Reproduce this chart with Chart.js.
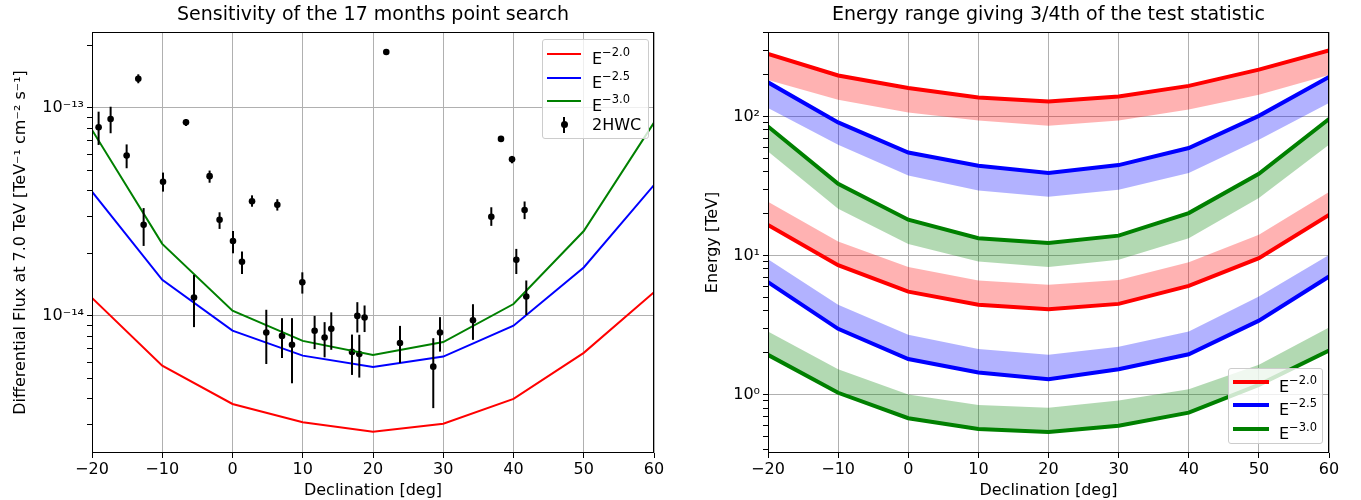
<!DOCTYPE html>
<html lang="en">
<head>
    <meta charset="UTF-8">
    <title>Sensitivity and energy range</title>
    <style>
        body {
            margin: 0;
            background: #ffffff;
            font-family: 'DejaVu Sans', sans-serif;
        }

        .wrap {
            position: relative;
            width: 1361px;
            height: 500px;
        }

        #fluxChart { position: absolute; left: 0; top: 0; }
        #energyChart { position: absolute; left: 680px; top: 0; }

        .legend {
            position: absolute;
            box-sizing: border-box;
            background: rgba(255, 255, 255, 0.8);
            border: 1px solid #cccccc;
            border-radius: 3px;
        }

        .legend-row {
            position: absolute;
            left: 0;
            height: 20px;
            font-size: 16px;
            line-height: 20px;
            color: #000;
            white-space: nowrap;
        }

        .legend-row .swatch { position: absolute; }
        .legend-row .label { position: absolute; top: 0; }
        .legend-row sup { font-size: 11.5px; position: relative; top: -2px; }
    </style>
    <script src="https://cdn.jsdelivr.net/npm/chart.js"></script>
</head>
<body>
    <div class="wrap">
        <canvas id="fluxChart" width="680" height="500"></canvas>
        <canvas id="energyChart" width="681" height="500"></canvas>
        <div class="legend" id="fluxLegend" style="left:542px; top:39px; width:107px; height:100px;"></div>
        <div class="legend" id="energyLegend" style="left:1228px; top:368px; width:95px; height:76px;"></div>
    </div>

    <script>
        // declination grid of the simulated curves
        const decl = [-20, -10, 0, 10, 20, 30, 40, 50, 60];
        const xTicks = [-20, -10, 0, 10, 20, 30, 40, 50, 60];

        const specIdx = ['2.0', '2.5', '3.0'];
        const specColor = ['#ff0000', '#0000ff', '#008000'];
        const bandColor = ['rgba(255,0,0,0.3)', 'rgba(0,0,255,0.3)', 'rgba(0,128,0,0.3)'];

        // left panel: sensitivity at 7 TeV
        const sensE20 = [1.22e-14, 5.76e-15, 3.77e-15, 3.08e-15, 2.77e-15, 3.03e-15, 3.99e-15, 6.64e-15, 1.30e-14];
        const sensE25 = [3.96e-14, 1.49e-14, 8.49e-15, 6.44e-15, 5.67e-15, 6.37e-15, 8.97e-15, 1.71e-14, 4.26e-14];
        const sensE30 = [7.84e-14, 2.22e-14, 1.06e-14, 7.58e-15, 6.49e-15, 7.48e-15, 1.14e-14, 2.56e-14, 8.50e-14];

        // 2HWC sources: declination, flux, error low / high
        const hwcDec = [-19.06, -17.35, -15.07, -13.41, -12.65, -9.89, -6.62, -5.48, -3.26, -1.84, 0.07, 1.35, 2.78, 6.38, 9.94,
            4.81, 7.05, 8.47, 11.69, 13.11, 14.06, 17.01, 17.77, 18.05, 18.80, 21.89, 23.84, 28.58, 29.54, 34.23,
            36.84, 38.22, 39.79, 40.40, 41.58, 41.82];
        const hwcFlux = [8.08e-14, 8.85e-14, 5.90e-14, 1.383e-13, 2.74e-14, 4.42e-14, 8.53e-14, 1.225e-14, 4.70e-14, 2.90e-14, 2.29e-14, 1.82e-14, 3.56e-14, 3.42e-14, 1.45e-14,
            8.32e-15, 8.01e-15, 7.26e-15, 8.48e-15, 7.87e-15, 8.66e-15, 6.71e-15, 1.0e-14, 6.55e-15, 9.82e-15, 1.86e-13, 7.40e-15, 5.70e-15, 8.32e-15, 9.53e-15,
            3.0e-14, 7.1e-14, 5.66e-14, 1.86e-14, 3.23e-14, 1.24e-14];
        const hwcLow = [6.64e-14, 7.56e-14, 5.13e-14, 1.315e-13, 2.17e-14, 3.96e-14, 8.19e-14, 8.83e-15, 4.37e-14, 2.62e-14, 2.0e-14, 1.59e-14, 3.35e-14, 3.21e-14, 1.28e-14,
            5.87e-15, 6.27e-15, 4.74e-15, 6.92e-15, 6.32e-15, 6.87e-15, 5.20e-15, 8.32e-15, 5.05e-15, 8.36e-15, 1.84e-13, 5.93e-15, 3.60e-15, 6.73e-15, 7.67e-15,
            2.71e-14, 7.0e-14, 5.42e-14, 1.59e-14, 2.92e-14, 1.01e-14];
        const hwcHigh = [9.6e-14, 1.014e-13, 6.68e-14, 1.452e-13, 3.30e-14, 4.89e-14, 8.85e-14, 1.574e-14, 5.0e-14, 3.15e-14, 2.56e-14, 2.04e-14, 3.80e-14, 3.64e-14, 1.62e-14,
            1.07e-14, 9.75e-15, 9.75e-15, 1.0e-14, 9.33e-15, 1.04e-14, 8.13e-15, 1.164e-14, 8.11e-15, 1.122e-14, 1.88e-13, 8.95e-15, 7.81e-15, 9.86e-15, 1.138e-14,
            3.33e-14, 7.2e-14, 5.88e-14, 2.10e-14, 3.55e-14, 1.48e-14];

        // right panel: energy range (TeV), upper and lower bounds with band edges
        const eHighE20 = [282, 197, 160, 137, 128, 139, 166, 217, 298];
        const eHighBandE20 = [183, 132, 107, 93.6, 85.8, 93.6, 112, 143, 199];
        const eLowE20 = [16.6, 8.53, 5.5, 4.42, 4.11, 4.49, 6.05, 9.58, 19.6];
        const eLowBandE20 = [24.4, 12.6, 8.26, 6.6, 6.15, 6.68, 8.96, 14.1, 28.6];

        const eHighE25 = [176, 90.6, 55, 44.2, 39.2, 44.7, 59.3, 101, 192];
        const eHighBandE25 = [115, 62.5, 37.6, 29.4, 26.5, 29.7, 39.2, 68, 125];
        const eLowE25 = [6.44, 2.97, 1.80, 1.44, 1.29, 1.52, 1.95, 3.40, 7.06];
        const eLowBandE25 = [9.42, 4.42, 2.69, 2.13, 1.93, 2.21, 2.84, 5.07, 10.1];

        const eHighE30 = [84.7, 32.8, 18.1, 13.3, 12.3, 13.9, 20.2, 38.7, 95.8];
        const eHighBandE30 = [56, 21.7, 12.1, 9.06, 8.26, 9.31, 13.3, 25.9, 62.5];
        const eLowE30 = [1.93, 1.03, 0.676, 0.566, 0.537, 0.596, 0.741, 1.175, 2.07];
        const eLowBandE30 = [2.84, 1.52, 1.0, 0.843, 0.805, 0.906, 1.09, 1.64, 3.03];

        const fluxRange = [2.19e-15, 2.32e-13];
        const energyRange = [0.38, 405];

        Chart.defaults.font.family = "'DejaVu Sans', sans-serif";
        Chart.defaults.color = '#000';

        const FONT = 16;

        const SUP = {'-': '\u207b', '0': '\u2070', '1': '\u00b9', '2': '\u00b2', '3': '\u00b3',
            '4': '\u2074', '5': '\u2075', '6': '\u2076', '7': '\u2077', '8': '\u2078', '9': '\u2079'};

        const isDecade = v => {
            const l = Math.log10(v);
            return Math.abs(l - Math.round(l)) < 1e-6;
        };
        const powLabel = v => '10' + String(Math.round(Math.log10(v))).split('').map(c => SUP[c]).join('');
        const pts = (xs, ys) => xs.map((x, i) => ({x: x, y: ys[i]}));

        // frame on all four sides + title centred over the axes
        const framePlugin = {
            id: 'frame',
            afterDatasetsDraw(chart, args, opts) {
                const {ctx, chartArea: a} = chart;
                ctx.save();
                ctx.strokeStyle = '#000';
                ctx.lineWidth = 1;
                ctx.strokeRect(a.left + 0.5, a.top + 0.5, a.right - a.left - 1, a.bottom - a.top - 1);
                ctx.fillStyle = '#000';
                ctx.font = "19px 'DejaVu Sans', sans-serif";
                ctx.textAlign = 'center';
                ctx.textBaseline = 'middle';
                ctx.fillText(opts.text, (a.left + a.right) / 2, 15.5);
                ctx.restore();
            }
        };

        const errorBarPlugin = {
            id: 'errorBars',
            afterDatasetsDraw(chart) {
                const meta = chart.getDatasetMeta(3);
                const y = chart.scales.y;
                const ctx = chart.ctx;
                ctx.save();
                ctx.strokeStyle = '#000';
                ctx.lineWidth = 2;
                meta.data.forEach((p, i) => {
                    ctx.beginPath();
                    ctx.moveTo(p.x, y.getPixelForValue(hwcHigh[i]));
                    ctx.lineTo(p.x, y.getPixelForValue(hwcLow[i]));
                    ctx.stroke();
                });
                ctx.restore();
            }
        };

        const xAxis = () => ({
            type: 'linear',
            min: -20,
            max: 60,
            afterBuildTicks: scale => { scale.ticks = xTicks.map(v => ({value: v})); },
            afterFit: scale => { scale.height = 47; },
            border: {display: false},
            grid: {color: '#b0b0b0', lineWidth: 1, tickColor: '#000', tickLength: 5},
            ticks: {
                font: {size: FONT},
                padding: 2,
                maxRotation: 0,
                autoSkip: false,
                callback: v => v < 0 ? '\u2212' + Math.abs(v) : String(v)
            },
            title: {display: true, text: 'Declination [deg]', font: {size: FONT}, padding: {top: 0, bottom: 0}}
        });

        const logAxis = (range, width, title, titlePad) => ({
            type: 'logarithmic',
            min: range[0],
            max: range[1],
            afterBuildTicks: scale => {
                const ticks = [];
                for (let e = Math.floor(Math.log10(range[0])); e <= Math.ceil(Math.log10(range[1])); e++) {
                    for (let k = 1; k < 10; k++) {
                        const v = k * Math.pow(10, e);
                        if (v >= range[0] && v <= range[1]) ticks.push({value: v});
                    }
                }
                scale.ticks = ticks;
            },
            afterFit: scale => { scale.width = width; },
            border: {display: false},
            grid: {
                color: c => (c.tick && isDecade(c.tick.value)) ? '#b0b0b0' : 'rgba(0,0,0,0)',
                lineWidth: 1,
                tickColor: '#000',
                tickLength: 5
            },
            ticks: {
                font: {size: FONT},
                padding: 3,
                autoSkip: false,
                callback: v => isDecade(v) ? powLabel(v) : ''
            },
            title: {display: true, text: title, font: {size: FONT}, padding: {top: titlePad, bottom: 0}}
        });

        // left chart
        const sens = [sensE20, sensE25, sensE30];
        const fluxDatasets = sens.map((s, i) => ({
            label: 'E-' + specIdx[i],
            data: pts(decl, s),
            borderColor: specColor[i],
            borderWidth: 2,
            pointRadius: 0,
            tension: 0,
            fill: false
        }));
        fluxDatasets.push({
            label: '2HWC',
            data: pts(hwcDec, hwcFlux),
            showLine: false,
            pointRadius: 3.3,
            pointBackgroundColor: '#000',
            pointBorderWidth: 0
        });

        new Chart(document.getElementById('fluxChart'), {
            type: 'line',
            data: {datasets: fluxDatasets},
            options: {
                responsive: false,
                animation: false,
                layout: {padding: {left: 0, right: 26, top: 32, bottom: 0}},
                plugins: {
                    legend: {display: false},
                    tooltip: {enabled: false},
                    frame: {text: 'Sensitivity of the 17 months point search'}
                },
                scales: {
                    x: xAxis(),
                    y: logAxis(fluxRange, 92, 'Differential Flux at 7.0 TeV [TeV\u207b\u00b9 cm\u207b\u00b2 s\u207b\u00b9]', 11)
                }
            },
            plugins: [errorBarPlugin, framePlugin]
        });

        // right chart
        const highLines = [eHighE20, eHighE25, eHighE30];
        const highBands = [eHighBandE20, eHighBandE25, eHighBandE30];
        const lowLines = [eLowE20, eLowE25, eLowE30];
        const lowBands = [eLowBandE20, eLowBandE25, eLowBandE30];

        const energyDatasets = [];
        for (let i = 0; i < 3; i++) {
            [[highLines[i], highBands[i]], [lowLines[i], lowBands[i]]].forEach(pair => {
                const lineIndex = energyDatasets.length;
                energyDatasets.push({
                    label: 'E-' + specIdx[i],
                    data: pts(decl, pair[0]),
                    borderColor: specColor[i],
                    borderWidth: 4,
                    pointRadius: 0,
                    tension: 0,
                    fill: false,
                    order: 0
                });
                energyDatasets.push({
                    label: 'band',
                    data: pts(decl, pair[1]),
                    borderWidth: 0,
                    borderColor: 'rgba(0,0,0,0)',
                    backgroundColor: bandColor[i],
                    pointRadius: 0,
                    tension: 0,
                    fill: {target: lineIndex},
                    order: 1
                });
            });
        }

        new Chart(document.getElementById('energyChart'), {
            type: 'line',
            data: {datasets: energyDatasets},
            options: {
                responsive: false,
                animation: false,
                layout: {padding: {left: 0, right: 32, top: 32, bottom: 0}},
                plugins: {
                    legend: {display: false},
                    tooltip: {enabled: false},
                    filler: {propagate: false},
                    frame: {text: 'Energy range giving 3/4th of the test statistic'}
                },
                scales: {
                    x: xAxis(),
                    y: logAxis(energyRange, 88, 'Energy [TeV]', 23)
                }
            },
            plugins: [framePlugin]
        });

        // legends (html, for the superscripts)
        const buildLegend = (el, rows, opts) => {
            rows.forEach((r, k) => {
                const row = document.createElement('div');
                row.className = 'legend-row';
                row.style.top = (opts.firstRow + k * opts.step - 10) + 'px';
                row.style.width = '100%';
                if (r.kind === 'line') {
                    const sw = document.createElement('span');
                    sw.className = 'swatch';
                    sw.style.left = opts.swLeft + 'px';
                    sw.style.width = opts.swWidth + 'px';
                    sw.style.height = r.width + 'px';
                    sw.style.top = (10 - r.width / 2) + 'px';
                    sw.style.background = r.color;
                    row.appendChild(sw);
                } else {
                    const bar = document.createElement('span');
                    bar.className = 'swatch';
                    bar.style.left = (opts.swLeft + opts.swWidth / 2 - 1) + 'px';
                    bar.style.width = '2px';
                    bar.style.height = '16px';
                    bar.style.top = '2px';
                    bar.style.background = '#000';
                    const dot = document.createElement('span');
                    dot.className = 'swatch';
                    dot.style.left = (opts.swLeft + opts.swWidth / 2 - 3.5) + 'px';
                    dot.style.width = '7px';
                    dot.style.height = '7px';
                    dot.style.top = '6.5px';
                    dot.style.borderRadius = '50%';
                    dot.style.background = '#000';
                    row.appendChild(bar);
                    row.appendChild(dot);
                }
                const lab = document.createElement('span');
                lab.className = 'label';
                lab.style.left = opts.textLeft + 'px';
                lab.innerHTML = r.html;
                row.appendChild(lab);
                el.appendChild(row);
            });
        };

        const specRows = w => specIdx.map((s, i) => ({kind: 'line', color: specColor[i], width: w, html: 'E<sup>\u2212' + s + '</sup>'}));

        buildLegend(document.getElementById('fluxLegend'),
            specRows(2).concat([{kind: 'errorbar', html: '2HWC'}]),
            {firstRow: 14, step: 23.5, swLeft: 4, swWidth: 34, textLeft: 49});
        buildLegend(document.getElementById('energyLegend'),
            specRows(4),
            {firstRow: 13, step: 23.3, swLeft: 4, swWidth: 36, textLeft: 50});
    </script>
</body>
</html>
